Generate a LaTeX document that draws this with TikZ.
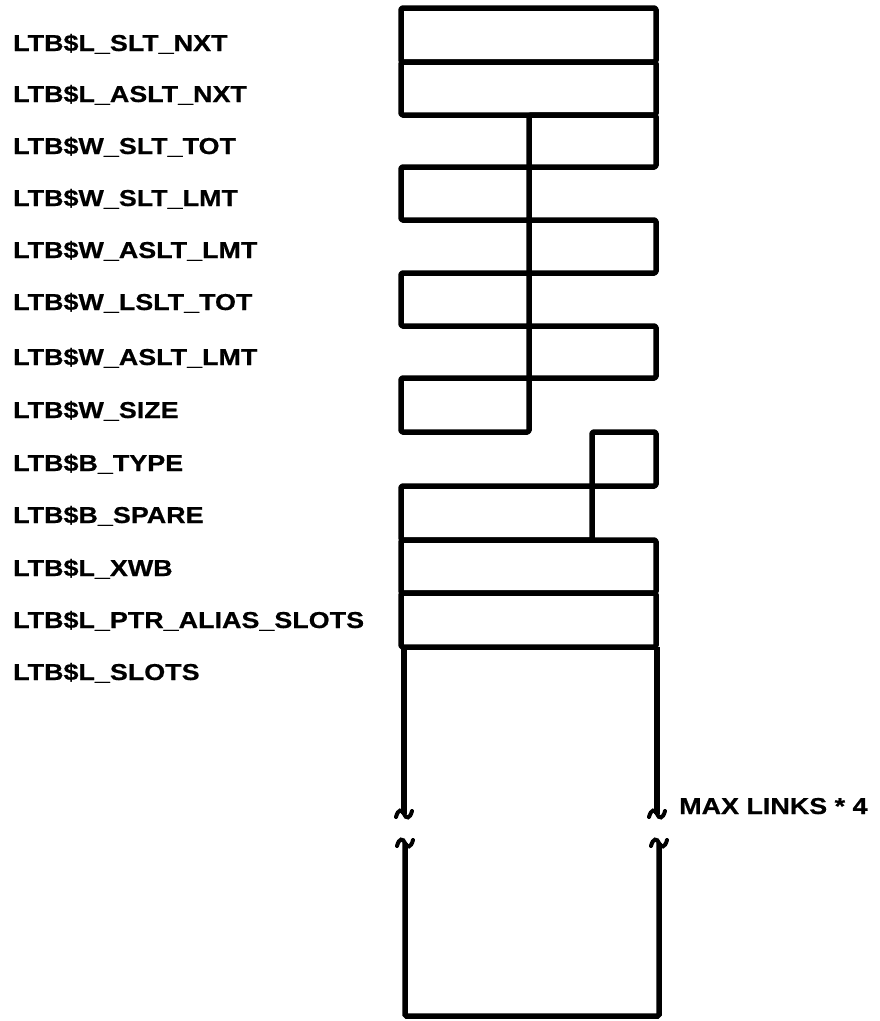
\documentclass[tikz,border=0pt]{standalone}
\usepackage{fontspec}
\setmainfont{Liberation Sans}[FakeStretch=1.17,FakeBold=0.6]
\begin{document}
\begin{tikzpicture}[x=1pt,y=-1pt,
  field/.style={draw=black,line width=5.5pt,rounded corners=1.5pt,line join=round},
  wall/.style={draw=black,line width=5.5pt},
  brk/.style={draw=black,line width=4pt,line cap=round},
  lbl/.style={anchor=base west,inner sep=0pt,font=\fontsize{23}{27}\selectfont\bfseries}]
\useasboundingbox (0,0) rectangle (880,1021);
% field outlines
\def\L{401}\def\M{529}\def\S{592}\def\R{656}
\draw[field] (\L,8) rectangle (\R,62);
\draw[field] (\L,62) rectangle (\R,115);
\draw[field] (\M,115) rectangle (\R,167);
\draw[field] (\L,167) rectangle (\M,220);
\draw[field] (\M,220) rectangle (\R,273);
\draw[field] (\L,273) rectangle (\M,326);
\draw[field] (\M,326) rectangle (\R,378);
\draw[field] (\L,378) rectangle (\M,432);
\draw[field] (\S,432) rectangle (\R,486);
\draw[field] (\L,486) rectangle (\S,540);
\draw[field] (\L,540) rectangle (\R,593);
\draw[field] (\L,593) rectangle (\R,647);
% slots area, upper part
\coordinate (ul) at (404,647);
\coordinate (ur) at (657,647);
\coordinate (ulb) at (404,814);
\coordinate (urb) at (657,814);
\draw[wall] (ul) -- (ulb);
\draw[wall] (ur) -- (urb);
% break marks
\draw[brk] (396,817) .. controls (398,809) and (402,809) .. (404,814) .. controls (406,819) and (410,819) .. (412,811);
\draw[brk] (649,817) .. controls (651,809) and (655,809) .. (657,814) .. controls (659,819) and (663,819) .. (665,811);
\draw[brk] (397,846) .. controls (399,838) and (403,838) .. (405,843) .. controls (407,848) and (411,848) .. (413,840);
\draw[brk] (651,846) .. controls (653,838) and (657,838) .. (659,843) .. controls (661,848) and (665,848) .. (667,840);
% slots area, lower part
\coordinate (ll) at (405,843);
\coordinate (lr) at (659,843);
\draw[wall,rounded corners=1.5pt] (ll) -- (405,1016) -- (659,1016) -- (lr);
% labels
\node[lbl] (t1) at (13,51) {LTB\$L\_SLT\_NXT};
\node[lbl] (t2) at (13,102) {LTB\$L\_ASLT\_NXT};
\node[lbl] (t3) at (13,154) {LTB\$W\_SLT\_TOT};
\node[lbl] (t4) at (13,206) {LTB\$W\_SLT\_LMT};
\node[lbl] (t5) at (13,258) {LTB\$W\_ASLT\_LMT};
\node[lbl] (t6) at (13,310) {LTB\$W\_LSLT\_TOT};
\node[lbl] (t7) at (13,365) {LTB\$W\_ASLT\_LMT};
\node[lbl] (t8) at (13,418) {LTB\$W\_SIZE};
\node[lbl] (t9) at (13,471) {LTB\$B\_TYPE};
\node[lbl] (t10) at (13,523) {LTB\$B\_SPARE};
\node[lbl] (t11) at (13,576) {LTB\$L\_XWB};
\node[lbl] (t12) at (13,628) {LTB\$L\_PTR\_ALIAS\_SLOTS};
\node[lbl] (t13) at (13,680) {LTB\$L\_SLOTS};
\node[lbl] (t14) at (679,814) {MAX LINKS * 4};
\end{tikzpicture}
\end{document}
